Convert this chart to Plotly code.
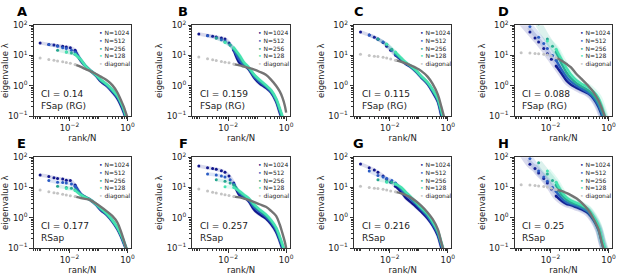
import plotly.graph_objects as go

# ---------------- data ----------------
# leading ranks drawn as individual dots, per system size N
ranks_1024 = [1, 2, 3, 4, 6, 8, 11, 16]
ranks_512 = [1, 2, 3, 4, 6, 8]
ranks_256 = [1, 2, 3, 4]
ranks_128 = [1, 2]
# rank/N positions of the dense tail (shared by all series)
tail_fraction = [0.025, 0.035, 0.05, 0.08, 0.12, 0.2, 0.3, 0.45, 0.6, 0.75, 0.9, 1.0]

series_names = ["N=1024", "N=512", "N=256", "N=128", "diagonal"]
panel_letters = ["A", "B", "C", "D", "E", "F", "G", "H"]
ci_labels = ["0.14", "0.159", "0.115", "0.088", "0.177", "0.257", "0.216", "0.25"]
model_labels = ["FSap (RG)", "FSap (RG)", "FSap (RG)", "FSap (RG)", "RSap", "RSap", "RSap", "RSap"]

x_tick_vals = [0.01, 1]
x_tick_text = ["10<sup>−2</sup>", "10<sup>0</sup>"]
y_tick_vals = [0.1, 1, 10, 100]
y_tick_text = ["10<sup>−1</sup>", "10<sup>0</sup>", "10<sup>1</sup>", "10<sup>2</sup>"]

# eigenvalues lambda (ranks part followed by tail part)
lam_A_1024 = [26, 23, 22, 21, 20, 19, 18, 15, 6.5, 4.5, 3.3, 2.2, 1.4, 0.95, 0.62, 0.38, 0.22, 0.13, 0.075, 0.05]
lam_A_512 = [23, 20, 18, 17, 15, 13, 7.0, 4.6, 3.3, 2.3, 1.5, 1.0, 0.68, 0.42, 0.25, 0.15, 0.085, 0.055]
lam_A_256 = [15, 13, 12, 11, 7.0, 4.6, 3.3, 2.3, 1.55, 1.05, 0.72, 0.45, 0.27, 0.16, 0.09, 0.06]
lam_A_128 = [13, 11, 7.2, 4.6, 3.3, 2.35, 1.6, 1.1, 0.75, 0.47, 0.28, 0.17, 0.1, 0.065]
lam_A_diag = [8.3, 7.4, 7.0, 6.6, 6.2, 5.9, 5.5, 5.0, 4.2, 3.6, 3.1, 2.5, 2.0, 1.5, 1.05, 0.6, 0.33, 0.2, 0.12, 0.09]

lam_B_1024 = [51, 46, 43, 41, 38, 35, 26, 15, 5.6, 4.8, 3.6, 1.8, 1.2, 0.85, 0.6, 0.3, 0.13, 0.07, 0.04, 0.03]
lam_B_512 = [45, 38, 33, 30, 22, 16, 7.0, 5.0, 3.8, 2.0, 1.35, 0.95, 0.65, 0.33, 0.15, 0.08, 0.045, 0.03]
lam_B_256 = [38, 28, 22, 17, 9.0, 5.5, 4.0, 2.2, 1.5, 1.0, 0.7, 0.36, 0.17, 0.09, 0.05, 0.035]
lam_B_128 = [27, 18, 10, 6.0, 4.2, 2.3, 1.6, 1.05, 0.72, 0.38, 0.18, 0.095, 0.055, 0.04]
lam_B_diag = [8.9, 7.8, 7.2, 6.8, 6.3, 6.0, 5.7, 5.2, 4.7, 4.3, 3.9, 3.4, 2.9, 2.3, 1.6, 1.0, 0.65, 0.4, 0.22, 0.13]

lam_C_1024 = [60, 47, 40, 34, 27, 20, 15, 10.3, 7.0, 5.3, 4.3, 2.9, 1.9, 1.15, 0.62, 0.3, 0.1, 0.05, 0.03, 0.02]
lam_C_512 = [47, 35, 28, 23, 15, 11, 7.4, 5.6, 4.5, 3.0, 2.0, 1.2, 0.68, 0.33, 0.12, 0.055, 0.035, 0.025]
lam_C_256 = [35, 23, 16, 12, 7.8, 5.8, 4.6, 3.1, 2.05, 1.25, 0.72, 0.36, 0.14, 0.06, 0.04, 0.03]
lam_C_128 = [24, 13, 8.2, 6.0, 4.7, 3.2, 2.1, 1.3, 0.75, 0.38, 0.15, 0.065, 0.04, 0.03]
lam_C_diag = [11, 10, 9.5, 9.2, 8.7, 8.2, 7.6, 7.0, 6.2, 5.5, 4.8, 3.9, 3.1, 2.0, 1.15, 0.52, 0.2, 0.09, 0.05, 0.03]

lam_D_1024 = [130, 60, 38, 28, 17, 11.5, 7.5, 4.5, 2.4, 1.5, 1.1, 0.85, 0.7, 0.55, 0.38, 0.2, 0.1, 0.06, 0.04, 0.03]
lam_D_512 = [90, 40, 25, 17, 10, 7, 3.2, 2.0, 1.4, 1.0, 0.8, 0.6, 0.42, 0.23, 0.12, 0.07, 0.045, 0.03]
lam_D_256 = [110, 35, 20, 13, 5.0, 2.8, 1.8, 1.2, 0.95, 0.7, 0.5, 0.28, 0.15, 0.085, 0.05, 0.035]
lam_D_128 = [30, 16, 7.0, 4.0, 2.4, 1.5, 1.15, 0.9, 0.65, 0.4, 0.2, 0.1, 0.06, 0.04]
lam_D_diag = [12.4, 12, 11.7, 11.5, 11, 10.6, 9.6, 8.4, 6.6, 5.3, 4.1, 2.4, 1.65, 1.0, 0.63, 0.33, 0.17, 0.095, 0.06, 0.05]

lam_E_1024 = [25.7, 23, 21, 20, 19, 17.5, 17, 12, 6.0, 4.8, 4.0, 2.8, 1.8, 1.2, 0.75, 0.42, 0.24, 0.14, 0.09, 0.06]
lam_E_512 = [17, 15, 14.5, 14, 13, 11, 6.0, 4.8, 4.0, 2.8, 1.9, 1.25, 0.8, 0.45, 0.26, 0.15, 0.1, 0.07]
lam_E_256 = [11, 10, 9.5, 8.5, 5.8, 4.8, 4.0, 2.9, 2.0, 1.3, 0.82, 0.47, 0.27, 0.16, 0.1, 0.07]
lam_E_128 = [9.3, 8.0, 5.6, 4.7, 4.0, 2.9, 2.05, 1.35, 0.85, 0.48, 0.28, 0.17, 0.1, 0.07]
lam_E_diag = [8.3, 7.2, 6.7, 6.4, 6.0, 5.7, 5.3, 5.0, 4.5, 4.2, 3.9, 3.0, 2.3, 1.6, 1.15, 0.7, 0.35, 0.18, 0.1, 0.07]

lam_F_1024 = [51, 45, 42, 40, 36, 32, 24, 14, 5.5, 4.8, 3.6, 1.8, 1.3, 0.95, 0.62, 0.34, 0.17, 0.09, 0.05, 0.035]
lam_F_512 = [28, 26, 24, 22, 18, 13, 6.5, 5.2, 4.0, 2.2, 1.6, 1.1, 0.72, 0.4, 0.2, 0.11, 0.06, 0.04]
lam_F_256 = [18, 16, 14, 12, 7.0, 5.5, 4.3, 2.5, 1.8, 1.2, 0.8, 0.45, 0.22, 0.12, 0.07, 0.045]
lam_F_128 = [10.6, 10, 7.5, 5.8, 4.5, 2.7, 1.9, 1.3, 0.85, 0.48, 0.24, 0.13, 0.075, 0.05]
lam_F_diag = [8.9, 7.6, 7.0, 6.6, 6.1, 5.8, 5.4, 5.0, 4.7, 4.3, 3.9, 3.3, 2.8, 2.3, 1.7, 1.15, 0.6, 0.3, 0.16, 0.1]

lam_G_1024 = [60, 45, 38, 32, 24, 19, 15, 11, 7.0, 4.6, 3.4, 2.3, 1.6, 0.95, 0.55, 0.26, 0.1, 0.05, 0.035, 0.025]
lam_G_512 = [35, 25, 22, 20, 17, 14, 8.5, 6.0, 4.3, 2.8, 1.9, 1.1, 0.62, 0.3, 0.12, 0.06, 0.04, 0.03]
lam_G_256 = [18, 16, 15, 13, 9.5, 6.8, 4.8, 3.1, 2.1, 1.25, 0.7, 0.34, 0.14, 0.07, 0.045, 0.03]
lam_G_128 = [15, 13, 10, 7.2, 5.2, 3.3, 2.2, 1.35, 0.75, 0.37, 0.15, 0.075, 0.05, 0.035]
lam_G_diag = [11, 10, 9.5, 9.2, 8.7, 8.2, 7.6, 7.2, 6.4, 5.6, 4.8, 3.5, 2.5, 1.5, 0.9, 0.42, 0.15, 0.07, 0.04, 0.03]

lam_H_1024 = [150, 58, 42, 30, 20, 14, 9, 5.2, 3.5, 2.9, 2.6, 2.2, 1.9, 1.4, 0.85, 0.4, 0.14, 0.07, 0.04, 0.03]
lam_H_512 = [90, 35, 22, 16, 10, 7.5, 4.2, 3.3, 2.9, 2.5, 2.1, 1.6, 0.95, 0.45, 0.16, 0.08, 0.045, 0.03]
lam_H_256 = [65, 28, 17, 12, 5.5, 4.0, 3.3, 2.8, 2.4, 1.8, 1.05, 0.5, 0.18, 0.09, 0.05, 0.035]
lam_H_128 = [35, 15, 7.0, 4.8, 3.8, 3.1, 2.6, 1.95, 1.15, 0.55, 0.2, 0.1, 0.055, 0.04]
lam_H_diag = [12.4, 12, 11.6, 11.3, 10.8, 10.3, 9.5, 8.6, 7.6, 6.6, 5.6, 4.3, 3.1, 1.8, 0.95, 0.42, 0.14, 0.07, 0.04, 0.03]

panel_data = {
    "A": [lam_A_1024, lam_A_512, lam_A_256, lam_A_128, lam_A_diag],
    "B": [lam_B_1024, lam_B_512, lam_B_256, lam_B_128, lam_B_diag],
    "C": [lam_C_1024, lam_C_512, lam_C_256, lam_C_128, lam_C_diag],
    "D": [lam_D_1024, lam_D_512, lam_D_256, lam_D_128, lam_D_diag],
    "E": [lam_E_1024, lam_E_512, lam_E_256, lam_E_128, lam_E_diag],
    "F": [lam_F_1024, lam_F_512, lam_F_256, lam_F_128, lam_F_diag],
    "G": [lam_G_1024, lam_G_512, lam_G_256, lam_G_128, lam_G_diag],
    "H": [lam_H_1024, lam_H_512, lam_H_256, lam_H_128, lam_H_diag],
}
series_ranks = [(ranks_1024, 1024), (ranks_512, 512), (ranks_256, 256), (ranks_128, 128), (ranks_1024, 1024)]

# ---------------- styling / layout ----------------
W, H = 617, 277
FONT = "DejaVu Sans"
line_colors = ["#11168c", "#2a5cc4", "#25a58f", "#46e3b0", "#747474"]
dot_colors = ["#11168c", "#2a5cc4", "#25a58f", "#46e3b0", "#c4c4c4"]
band_colors = ["rgba(17,22,140,0.16)", "rgba(42,92,196,0.16)", "rgba(37,165,143,0.16)",
               "rgba(70,227,176,0.16)", "rgba(0,0,0,0)"]
wide_band = {"D", "H"}

lefts = [33, 193, 356, 518]
tops = [19, 157]
PW, PH = 98, 95
letter_xy = [(21, 5), (183.5, 5), (360.5, 5), (507, 5), (21, 143), (183.5, 143), (360, 143), (507, 143)]

x_minor = [m * 10.0 ** e for e in (-4, -3, -2, -1) for m in range(1, 10)
           if 5.9e-4 <= m * 10.0 ** e <= 1.3 and m * 10.0 ** e not in (0.01, 1)]
y_minor = [m * 10.0 ** e for e in (-1, 0, 1) for m in range(2, 10)]

fig = go.Figure()
annotations = []
axis_color = "#333333"
text_color = "#222222"

for i, letter in enumerate(panel_letters):
    row, col = divmod(i, 4)
    L, T = lefts[col], tops[row]
    xa = "x" if i == 0 else f"x{i+1}"
    ya = "y" if i == 0 else f"y{i+1}"
    xkey = "xaxis" if i == 0 else f"xaxis{i+1}"
    ykey = "yaxis" if i == 0 else f"yaxis{i+1}"

    fig.layout[xkey] = dict(
        type="log", range=[-3.23, 0.12], domain=[L / W, (L + PW) / W], anchor=ya,
        showline=True, mirror=True, linecolor=axis_color, linewidth=1,
        ticks="outside", ticklen=3.5, tickwidth=0.8, tickcolor=axis_color,
        tickvals=x_tick_vals, ticktext=x_tick_text,
        tickfont=dict(family=FONT, size=8.5, color=text_color),
        minor=dict(tickvals=x_minor, ticks="outside", ticklen=2, tickwidth=0.6, tickcolor=axis_color),
        showgrid=False, zeroline=False,
        title=dict(text="rank/N", font=dict(family=FONT, size=8.5, color=text_color), standoff=3),
    )
    fig.layout[ykey] = dict(
        type="log", range=[-1, 2], domain=[1 - (T + PH) / H, 1 - T / H], anchor=xa,
        showline=True, mirror=True, linecolor=axis_color, linewidth=1,
        ticks="outside", ticklen=3.5, tickwidth=0.8, tickcolor=axis_color,
        tickvals=y_tick_vals, ticktext=y_tick_text,
        tickfont=dict(family=FONT, size=8.5, color=text_color),
        minor=dict(tickvals=y_minor, ticks="outside", ticklen=2, tickwidth=0.6, tickcolor=axis_color),
        showgrid=False, zeroline=False,
        title=dict(text="eigenvalue λ", font=dict(family=FONT, size=8.5, color=text_color), standoff=2),
    )

    series_list = panel_data[letter]
    band_w = 7 if letter in wide_band else 3.5
    for s in [0, 1, 2, 3, 4]:
        ranks, n = series_ranks[s]
        lam = series_list[s]
        xs = [k / n for k in ranks] + tail_fraction
        nk = len(ranks)
        if s < 4:
            fig.add_trace(go.Scatter(
                x=xs, y=lam, xaxis=xa, yaxis=ya, mode="lines", line_shape="spline",
                line=dict(color=band_colors[s], width=band_w), showlegend=False, hoverinfo="skip"))
        fig.add_trace(go.Scatter(
            x=xs[nk - 1:], y=lam[nk - 1:], xaxis=xa, yaxis=ya, mode="lines", line_shape="spline",
            line=dict(color=line_colors[s], width=2.4), name=series_names[s], showlegend=False))
        fig.add_trace(go.Scatter(
            x=xs[:nk], y=lam[:nk], xaxis=xa, yaxis=ya, mode="markers",
            marker=dict(color=dot_colors[s], size=3, line=dict(width=0)),
            name=series_names[s], showlegend=False))

    legend_lines = [f"<span style='color:{dot_colors[s]}'>•</span> {series_names[s]}" for s in range(5)]
    annotations.append(dict(
        xref=f"{xa} domain", yref=f"{ya} domain", x=64.2 / PW, y=1 - 2.0 / PH,
        xanchor="left", yanchor="top", align="left", showarrow=False,
        text="<br>".join(legend_lines), font=dict(family=FONT, size=6, color=text_color)))
    annotations.append(dict(
        xref=f"{xa} domain", yref=f"{ya} domain", x=5.5 / PW, y=3.0 / PH,
        xanchor="left", yanchor="bottom", align="left", showarrow=False,
        text=f"CI = {ci_labels[i]}<br>{model_labels[i]}", font=dict(family=FONT, size=9, color=text_color)))
    lx, ly = letter_xy[i]
    annotations.append(dict(
        xref="paper", yref="paper", x=lx / W, y=1 - ly / H, xanchor="center", yanchor="middle",
        showarrow=False, text=f"<b>{letter}</b>", font=dict(family=FONT, size=13, color="#000")))

fig.update_layout(
    width=W, height=H, margin=dict(l=0, r=0, t=0, b=0),
    paper_bgcolor="white", plot_bgcolor="white",
    font=dict(family=FONT), annotations=annotations, showlegend=False,
)

fig.write_html("out.html", config={"displayModeBar": False},
               post_script="document.body.style.margin='0';")
